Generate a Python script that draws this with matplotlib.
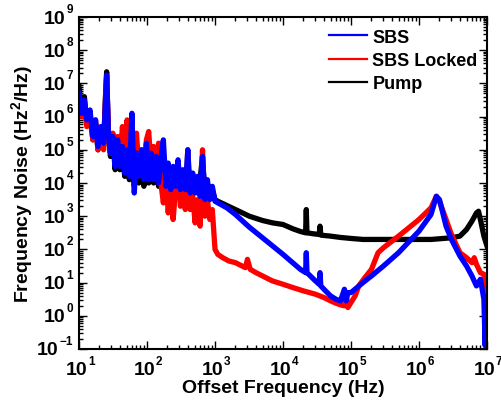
import matplotlib
matplotlib.use("Agg")
import matplotlib.pyplot as plt
from matplotlib.lines import Line2D
from matplotlib.ticker import NullFormatter
import numpy as np

# ---- data (frequency in Hz, noise as log10(Hz^2/Hz)) ----
# shared low-frequency grid (10 Hz - 1 kHz), noisy region
low_f = [10, 11, 12, 13, 14.5, 16, 17.5, 19, 21, 23,
         24.5, 25.5, 27, 29, 31.5, 34, 37, 40, 43.5, 47,
         51, 55, 60, 65, 70, 76, 83, 90, 98, 106,
         115, 125, 136, 148, 160, 174, 190, 205, 223, 242,
         263, 286, 310, 337, 366, 398, 432, 470, 510, 555,
         603, 655, 712, 773, 840, 913, 1000]

pump_low = [6.9, 6.0, 6.6, 5.8, 6.1, 5.3, 5.8, 5.0, 5.6, 5.1,
            6.6, 7.35, 5.5, 4.8, 5.3, 4.4, 5.2, 4.4, 5.0, 4.2,
            4.9, 4.1, 4.8, 3.9, 4.8, 4.0, 4.9, 3.9, 4.9, 4.0,
            4.8, 4.0, 4.6, 3.9, 4.5, 4.0, 4.5, 3.9, 4.4, 3.8,
            4.4, 3.8, 4.3, 3.7, 4.2, 3.7, 4.1, 3.7, 4.0, 3.7,
            4.1, 4.8, 3.6, 3.9, 3.6, 3.8, 3.5]
sbs_low = [6.7, 6.1, 6.5, 5.9, 6.2, 5.4, 5.9, 5.1, 5.7, 5.2,
           6.4, 7.25, 5.6, 4.9, 5.4, 4.5, 5.3, 4.5, 5.1, 4.3,
           5.0, 4.2, 6.1, 3.7, 4.9, 4.2, 5.0, 4.1, 5.2, 4.1,
           4.9, 4.1, 4.8, 4.0, 4.7, 5.3, 3.9, 4.6, 3.8, 4.5,
           3.9, 4.7, 3.8, 4.4, 3.8, 5.0, 3.7, 4.3, 3.7, 4.2,
           3.6, 4.8, 3.5, 4.1, 3.5, 3.9, 3.45]
locked_low = [6.5, 6.0, 6.4, 5.7, 6.0, 5.3, 5.9, 5.0, 5.6, 5.0,
              6.5, 7.2, 5.6, 4.9, 5.5, 4.6, 5.4, 4.6, 5.7, 4.8,
              5.9, 4.6, 5.2, 4.2, 5.5, 4.4, 5.0, 4.3, 5.3, 5.55,
              4.4, 5.1, 4.3, 5.2, 4.0, 3.4, 4.3, 3.1, 4.0, 2.9,
              3.8, 4.6, 3.3, 3.9, 3.2, 5.0, 3.2, 3.6, 2.8, 3.5,
              2.7, 5.0, 3.0, 3.5, 2.9, 3.2, 2.0]

# higher-frequency parts (above 1 kHz)
pump_hi_f = [1100, 1400, 2000, 3200, 5000, 7000, 1e4,
             1.4e4, 1.8e4, 2.15e4, 2.2e4, 2.25e4, 2.8e4, 3.4e4, 3.5e4, 3.6e4, 5e4,
             7e4, 1e5, 1.5e5, 2e5, 3e5, 5e5, 7e5, 1e6, 1.5e6, 2e6,
             3e6, 4e6, 5e6, 6e6, 7e6, 7.5e6, 8e6, 9e6, 1e7]
pump_hi = [3.45, 3.35, 3.2, 3.0, 2.87, 2.8, 2.75,
           2.62, 2.54, 2.5, 3.2, 2.5, 2.47, 2.45, 2.7, 2.43, 2.4,
           2.36, 2.33, 2.3, 2.3, 2.3, 2.3, 2.3, 2.3, 2.3, 2.32,
           2.35, 2.4, 2.6, 2.85, 3.1, 3.15, 2.9, 2.4, 2.1]

sbs_hi_f = [1500, 2000, 3200,
            5000, 1e4, 1.8e4, 2.15e4, 2.2e4, 2.25e4, 3e4, 3.4e4, 3.5e4, 3.6e4,
            4e4, 5e4, 6e4, 7e4, 8e4, 8.5e4, 9e4, 1e5, 1.5e5, 2e5,
            3e5, 5e5, 1e6, 1.5e6, 1.8e6, 2e6, 2.5e6, 3e6, 4e6, 5e6,
            6e6, 7e6, 8e6, 9e6, 9.4e6, 9.7e6, 1e7]
sbs_hi = [3.25, 3.05, 2.67,
          2.35, 1.85, 1.4, 1.3, 1.9, 1.3, 1.05, 0.95, 1.3, 0.9,
          0.8, 0.6, 0.5, 0.45, 0.8, 0.45, 0.7, 0.7, 1.0, 1.2,
          1.5, 1.9, 2.55, 3.05, 3.6, 3.5, 2.7, 2.3, 1.8, 1.5,
          1.2, 0.9, 1.1, 0.5, -0.9, 0.5, 0.3]

locked_hi_f = [1100, 1300, 1600, 2000, 2500, 2800,
               3000, 3300, 4000, 5000, 7000, 1e4, 1.4e4, 2e4, 3e4, 4e4,
               5e4, 6e4, 7e4, 8e4, 8.5e4, 9e4, 1e5, 1.15e5, 1.3e5, 1.6e5,
               2e5, 2.5e5, 3e5, 5e5, 1e6, 1.5e6, 1.8e6, 2e6, 2.5e6, 3e6,
               4e6, 5e6, 6e6, 6.5e6, 7e6, 8e6, 9e6, 9.5e6, 1e7]
locked_hi = [1.85, 1.75, 1.65, 1.6, 1.5, 1.45,
             1.7, 1.4, 1.3, 1.2, 1.05, 0.95, 0.85, 0.75, 0.65, 0.55,
             0.45, 0.38, 0.33, 0.3, 0.6, 0.25, 0.4, 0.6, 0.9, 1.15,
             1.4, 1.9, 2.05, 2.4, 2.9, 3.25, 3.6, 3.45, 2.9, 2.45,
             1.9, 1.75, 1.6, 1.75, 1.55, 1.3, 1.25, 0.9, -0.4]

x_exps = [1, 2, 3, 4, 5, 6, 7]
y_exps = [-1, 0, 1, 2, 3, 4, 5, 6, 7, 8, 9]

plt.rcParams['font.family'] = ['Liberation Sans', 'DejaVu Sans']
plt.rcParams['font.weight'] = 'bold'
plt.rcParams['mathtext.fontset'] = 'custom'
plt.rcParams['mathtext.rm'] = 'Liberation Sans:bold'
plt.rcParams['mathtext.it'] = 'Liberation Sans:bold'
plt.rcParams['mathtext.bf'] = 'Liberation Sans:bold'
plt.rcParams['mathtext.default'] = 'rm'

fig = plt.figure(figsize=(5.02, 4.02), dpi=100)
ax = fig.add_axes([79/502, 1-350/402, (487-79)/502, (350-18)/402])

def series(f_lo, v_lo, f_hi, v_hi):
    f = list(f_lo) + list(f_hi)
    v = np.power(10.0, list(v_lo) + list(v_hi))
    return f, v

lw = 3.8
pf, pv = series(low_f, pump_low, pump_hi_f, pump_hi)
lf, lv = series(low_f, locked_low, locked_hi_f, locked_hi)
sf, sv = series(low_f, sbs_low, sbs_hi_f, sbs_hi)
ax.plot(pf, pv, color='black', lw=lw)
ax.plot(lf, lv, color='#ff0000', lw=lw)
ax.plot(sf, sv, color='#0000ff', lw=lw)

ax.set_xscale('log')
ax.set_yscale('log')
ax.set_xlim(1e1, 1e7)
ax.set_ylim(1e-1, 1e9)
ax.set_xticks([10.0 ** e for e in x_exps])
ax.set_yticks([10.0 ** e for e in y_exps])
ax.xaxis.set_major_formatter(NullFormatter())
ax.yaxis.set_major_formatter(NullFormatter())
ax.xaxis.set_minor_formatter(NullFormatter())
ax.yaxis.set_minor_formatter(NullFormatter())
ax.tick_params(which='both', direction='in', top=True, right=True, width=1.0)
ax.tick_params(which='major', length=6)
ax.tick_params(which='minor', length=3)
for s in ax.spines.values():
    s.set_linewidth(1.5)

base_fs = 14
sup_fs = 8.5
# y tick labels: "10" with a small raised exponent
for e in y_exps:
    sup = ax.annotate(f"{e}".replace('-', '\u2212'), xy=(0, 10.0 ** e),
                      xycoords=ax.get_yaxis_transform(),
                      xytext=(-6, 8), textcoords='offset pixels',
                      ha='right', va='center', fontsize=sup_fs, fontweight='bold')
    ax.annotate('10', xy=(0, 10.0 ** e), xycoords=(sup, ax.get_yaxis_transform()),
                xytext=(-1, -1), textcoords='offset pixels',
                ha='right', va='center', fontsize=base_fs, fontweight='bold')
# x tick labels
for e in x_exps:
    ax.annotate('10', xy=(10.0 ** e, 0), xycoords=ax.get_xaxis_transform(),
                xytext=(8, -21), textcoords='offset pixels',
                ha='right', va='center', fontsize=base_fs, fontweight='bold',
                annotation_clip=False)
    ax.annotate(f"{e}", xy=(10.0 ** e, 0), xycoords=ax.get_xaxis_transform(),
                xytext=(9, -12), textcoords='offset pixels',
                ha='left', va='center', fontsize=sup_fs, fontweight='bold',
                annotation_clip=False)

ax.set_xlabel('Offset Frequency (Hz)', fontsize=14, fontweight='bold')
ax.set_ylabel('Frequency Noise (Hz$^2$/Hz)', fontsize=14, fontweight='bold')
ax.xaxis.set_label_coords(0.5, -0.091)
ax.yaxis.set_label_coords(-0.108, 0.5)

handles = [Line2D([], [], color='#0000ff', lw=1.6),
           Line2D([], [], color='#ff0000', lw=1.6),
           Line2D([], [], color='black', lw=1.6)]
ax.legend(handles, ['SBS', 'SBS Locked', 'Pump'], loc='upper left',
          bbox_to_anchor=(0.613, 0.965), frameon=False,
          handlelength=2.1, handletextpad=0.3, labelspacing=0.35,
          borderpad=0, borderaxespad=0, prop={'weight': 'bold', 'size': 13})

fig.savefig('out.png', dpi=100)
